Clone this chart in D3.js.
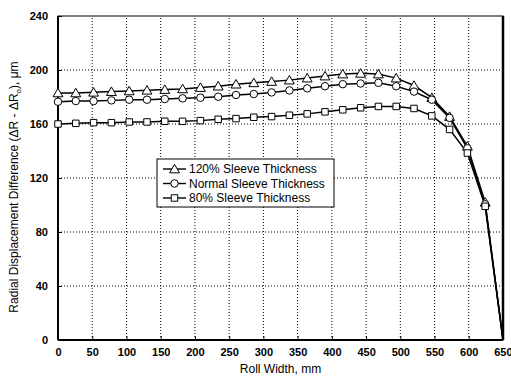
<!DOCTYPE html>
<html><head><meta charset="utf-8">
<script src="https://cdn.jsdelivr.net/npm/d3@7/dist/d3.min.js"></script>
<style>body{margin:0;background:#fff}svg{display:block}</style>
</head><body>
<script>
const xVals = [0,26,52,78,104,130,156,182,208,234,260,286,312,338,364,390,416,442,468,494,520,546,572,598,624,650];
const tri120 = [183,183,183.5,184,184.5,185,185.5,186,187,188,189.5,190.5,191.5,192.5,194,195.5,197,197.5,197,194,188.5,179.5,165.5,143.5,102,0];
const circNormal = [176.5,177,177,177.5,178,178,178.5,179,179.5,180.2,181.5,182.2,183.4,184.9,186.4,188,189.5,190,190.5,188,184,178,164.5,142,100.5,0];
const sq80 = [160,160.5,161,161,161.5,161.5,162,162,162.5,163.5,164,165,165.5,166.5,167.5,169,170.5,172,173,173,171.5,166,156,138.5,99,0];
const seriesNames = ["120% Sleeve Thickness","Normal Sleeve Thickness","80% Sleeve Thickness"];
const xTicks = d3.range(0,651,50);
const yTicks = d3.range(0,241,40);

const W=511,H=383;
const m={l:58,r:8,t:16,b:43};
const svg=d3.select("body").append("svg").attr("width",W).attr("height",H);
const x=d3.scaleLinear().domain([0,650]).range([m.l,W-m.r]);
const y=d3.scaleLinear().domain([0,240]).range([H-m.b,m.t]);
const font="'Liberation Sans', Arial, sans-serif";

// grid
const g=svg.append("g");
g.selectAll(".gx").data(xTicks.slice(1,-1)).enter().append("line")
 .attr("x1",d=>x(d)).attr("x2",d=>x(d)).attr("y1",y(0)).attr("y2",y(240))
 .attr("stroke","#000").attr("stroke-width",1).attr("stroke-dasharray","1,2");
g.selectAll(".gy").data(yTicks.slice(1,-1)).enter().append("line")
 .attr("y1",d=>y(d)).attr("y2",d=>y(d)).attr("x1",x(0)).attr("x2",x(650))
 .attr("stroke","#000").attr("stroke-width",1).attr("stroke-dasharray","1,2");

// axes
const xAxis=d3.axisBottom(x).tickValues(xTicks).tickSize(-4).tickPadding(8).tickFormat(d3.format("d"));
const yAxis=d3.axisLeft(y).tickValues(yTicks).tickSize(-4).tickPadding(10).tickFormat(d3.format("d"));
const gx=svg.append("g").attr("transform",`translate(0,${y(0)})`).call(xAxis);
const gy=svg.append("g").attr("transform",`translate(${x(0)},0)`).call(yAxis);
[gx,gy].forEach(a=>{
  a.select(".domain").remove();
  a.selectAll("line").attr("stroke","#000");
  a.selectAll("text").attr("font-family",font).attr("font-size",11).attr("font-weight","bold").attr("fill","#000");
});
gx.selectAll("text").filter(d=>d===650).attr("text-anchor","end").attr("dx",9);
// frame
svg.append("rect").attr("x",x(0)).attr("y",y(240)).attr("width",x(650)-x(0)).attr("height",y(0)-y(240))
 .attr("fill","none").attr("stroke","#000").attr("stroke-width",1);
svg.append("line").attr("x1",x(0)).attr("x2",x(0)).attr("y1",y(240)).attr("y2",y(0)).attr("stroke","#000").attr("stroke-width",2);
svg.append("line").attr("x1",x(0)).attr("x2",x(650)).attr("y1",y(0)).attr("y2",y(0)).attr("stroke","#000").attr("stroke-width",2);
svg.append("line").attr("x1",x(650)).attr("x2",x(650)).attr("y1",y(240)).attr("y2",y(0)).attr("stroke","#000").attr("stroke-width",2.5);

// series
const series=[tri120,circNormal,sq80];
const symTypes=[d3.symbolTriangle,d3.symbolCircle,d3.symbolSquare];
const symSizes=[42,44,42];
const line=d3.line().x((d,i)=>x(xVals[i])).y(d=>y(d));
series.forEach((s,k)=>{
  svg.append("path").datum(s).attr("d",line).attr("fill","none").attr("stroke","#000").attr("stroke-width",1.5);
});
series.forEach((s,k)=>{
  svg.selectAll(".m"+k).data(s.slice(0,-1)).enter().append("path")
   .attr("d",d3.symbol().type(symTypes[k]).size(symSizes[k]))
   .attr("transform",(d,i)=>`translate(${x(xVals[i])},${y(d)+(k===0?1:0)})`)
   .attr("fill","#fff").attr("stroke","#000").attr("stroke-width",1);
});

// legend
const lg=svg.append("g");
lg.append("rect").attr("x",157).attr("y",159).attr("width",177).attr("height",48)
 .attr("fill","#fff").attr("stroke","#000").attr("stroke-width",1);
seriesNames.forEach((n,k)=>{
  const yy=169+k*14.5;
  lg.append("line").attr("x1",163).attr("x2",186).attr("y1",yy).attr("y2",yy).attr("stroke","#000").attr("stroke-width",1.4);
  lg.append("path").attr("d",d3.symbol().type(symTypes[k]).size(symSizes[k])())
   .attr("transform",`translate(174.5,${yy+(k===0?1:0)})`).attr("fill","#fff").attr("stroke","#000");
  lg.append("text").attr("x",189).attr("y",yy+4).text(n)
   .attr("font-family",font).attr("font-size",12).attr("fill","#000");
});

// titles
svg.append("text").attr("x",(x(0)+x(650))/2).attr("y",373).attr("text-anchor","middle")
 .attr("font-family",font).attr("font-size",12).text("Roll Width,  mm");
const yt=svg.append("text").attr("transform",`translate(18,187) rotate(-90)`).attr("text-anchor","middle")
 .attr("font-family",font).attr("font-size",12);
yt.append("tspan").text("Radial Displacement Difference  (ΔR - ΔR");
yt.append("tspan").attr("font-size",8).attr("dy",3).text("o");
yt.append("tspan").attr("dy",-3).text("),  μm");
</script>
</body></html>
